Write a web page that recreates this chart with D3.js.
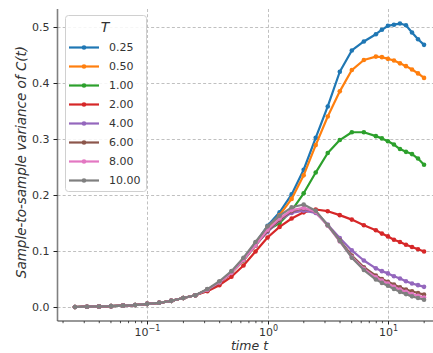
<!DOCTYPE html>
<html><head><meta charset="utf-8">
<script src="https://cdn.jsdelivr.net/npm/d3@7"></script>
<style>body{margin:0;background:#fff}svg{display:block;font-family:"DejaVu Sans",sans-serif}</style>
</head><body><svg id="c" width="433" height="353"></svg>
<script>
// log10 of time t
const logTimes = [-1.6,-1.5,-1.4,-1.3,-1.2,-1.1,-1.0,-0.9,-0.8,-0.7,-0.6,-0.5,-0.4,-0.3,-0.2,-0.1,0.0,0.1,0.2,0.3,0.4,0.5,0.6,0.7,0.8,0.9,0.95,1.0,1.05,1.1,1.15,1.2,1.25,1.3];
const temps = ["0.25","0.50","1.00","2.00","4.00","6.00","8.00","10.00"];
const colors = ["#1f77b4","#ff7f0e","#2ca02c","#d62728","#9467bd","#8c564b","#e377c2","#7f7f7f"];
const early = [0.000,0.0005,0.001,0.0015,0.0025,0.0035,0.0055,0.0075,0.011,0.016,0.021];
const v025 = early.concat([0.031,0.044,0.062,0.086,0.114,0.145,0.169,0.201,0.245,0.302,0.358,0.420,0.458,0.474,0.487,0.495,0.502,0.504,0.506,0.503,0.490,0.478,0.468]);
const v050 = early.concat([0.031,0.044,0.062,0.085,0.113,0.142,0.164,0.193,0.235,0.289,0.340,0.385,0.423,0.441,0.447,0.446,0.443,0.440,0.435,0.430,0.424,0.417,0.409]);
const v100 = early.concat([0.031,0.044,0.061,0.083,0.110,0.137,0.150,0.172,0.203,0.240,0.275,0.298,0.312,0.312,0.305,0.301,0.296,0.290,0.282,0.277,0.273,0.265,0.254]);
const v200 = early.concat([0.028,0.039,0.054,0.074,0.099,0.124,0.143,0.158,0.169,0.174,0.171,0.164,0.156,0.146,0.137,0.131,0.126,0.120,0.116,0.111,0.107,0.103,0.099]);
const v400 = early.concat([0.031,0.044,0.062,0.085,0.111,0.134,0.155,0.168,0.172,0.168,0.147,0.123,0.101,0.083,0.069,0.064,0.060,0.055,0.051,0.046,0.042,0.039,0.036]);
const v600 = early.concat([0.030,0.043,0.061,0.084,0.110,0.136,0.156,0.171,0.176,0.170,0.146,0.119,0.092,0.071,0.056,0.050,0.045,0.040,0.035,0.031,0.028,0.025,0.022]);
const v800 = early.concat([0.031,0.044,0.061,0.084,0.110,0.138,0.158,0.173,0.177,0.170,0.145,0.117,0.089,0.068,0.053,0.047,0.042,0.036,0.031,0.027,0.023,0.020,0.017]);
const v1000 = early.concat([0.032,0.046,0.064,0.088,0.116,0.144,0.163,0.178,0.183,0.172,0.146,0.118,0.088,0.066,0.049,0.043,0.038,0.032,0.027,0.023,0.019,0.016,0.013]);
const series = [v025,v050,v100,v200,v400,v600,v800,v1000];
const yTicks = [0.0,0.1,0.2,0.3,0.4,0.5];
const xTicks = [0.1,1,10];

const svg = d3.select("#c");
const L = 57.5, R = 441.5, T = 9, B = 321;
const x = d3.scaleLog().domain([Math.pow(10,-1.745),Math.pow(10,1.445)]).range([L,R]);
const y = d3.scaleLinear().domain([-0.025,0.532]).range([B,T]);

svg.append("defs").append("clipPath").attr("id","clip").append("rect").attr("x",L).attr("y",T-3).attr("width",R-L).attr("height",B-T+3);

// grid
const grid = svg.append("g").attr("stroke","#b0b0b0").attr("stroke-width",0.8).attr("stroke-dasharray","3,2.2");
yTicks.forEach(v=>grid.append("line").attr("x1",L).attr("x2",R).attr("y1",Math.round(y(v))+0.5).attr("y2",Math.round(y(v))+0.5));
xTicks.forEach(v=>grid.append("line").attr("x1",Math.round(x(v))+0.5).attr("x2",Math.round(x(v))+0.5).attr("y1",T).attr("y2",B));

// lines
const plot = svg.append("g").attr("clip-path","url(#clip)");
const line = d3.line().x((d,i)=>x(Math.pow(10,logTimes[i]))).y(d=>y(d));
series.forEach((s,k)=>{
  const g = plot.append("g");
  g.append("path").datum(s).attr("d",line).attr("fill","none").attr("stroke",colors[k]).attr("stroke-width",2.2).attr("stroke-linejoin","round");
  g.selectAll("circle").data(s).join("circle").attr("cx",(d,i)=>x(Math.pow(10,logTimes[i]))).attr("cy",d=>y(d)).attr("r",2.3).attr("fill",colors[k]);
});

// spines
svg.append("line").attr("x1",L).attr("x2",L).attr("y1",T).attr("y2",B).attr("stroke","#808080").attr("stroke-width",1.6);
svg.append("line").attr("x1",L).attr("x2",R).attr("y1",B).attr("y2",B).attr("stroke","#333").attr("stroke-width",1.2);

// y ticks
const yAxis = svg.append("g");
yTicks.forEach(v=>{
  const yy = Math.round(y(v))+0.5;
  yAxis.append("line").attr("x1",L-4).attr("x2",L).attr("y1",yy).attr("y2",yy).attr("stroke","#222").attr("stroke-width",1);
  yAxis.append("text").attr("x",L-8).attr("y",yy).attr("dy","0.36em").attr("text-anchor","end").attr("font-size",11).attr("fill","#333").text(v.toFixed(1));
});
// x ticks
const xAxis = svg.append("g");
const minor = [];
for (let e=-2;e<=1;e++) for (let m=2;m<=9;m++){ const v=m*Math.pow(10,e); if (x(v)>=L && x(v)<=R) minor.push(v); }
minor.forEach(v=>xAxis.append("line").attr("x1",x(v)).attr("x2",x(v)).attr("y1",B).attr("y2",B+2.2).attr("stroke","#222").attr("stroke-width",0.8));
const exps = ["\u22121","0","1"];
xTicks.forEach((v,i)=>{
  const xx = Math.round(x(v))+0.5;
  xAxis.append("line").attr("x1",xx).attr("x2",xx).attr("y1",B).attr("y2",B+3.5).attr("stroke","#222").attr("stroke-width",1);
  const t = xAxis.append("text").attr("x",xx).attr("y",B+14.5).attr("text-anchor","middle").attr("font-size",11).attr("fill","#333");
  t.append("tspan").text("10");
  t.append("tspan").attr("font-size",8).attr("dy",-5).text(exps[i]);
});

// axis labels
svg.append("text").attr("x",(L+R)/2).attr("y",349.8).attr("text-anchor","middle").attr("font-size",12.5).attr("font-style","italic").attr("fill","#333").text("time t");
svg.append("text").attr("transform","translate(26,"+((T+B)/2 - 3)+") rotate(-90)").attr("text-anchor","middle").attr("font-size",13.5).attr("font-style","italic").attr("fill","#333").text("Sample-to-sample variance of C(t)");

// legend
const lg = svg.append("g");
lg.append("rect").attr("x",65.5).attr("y",15.5).attr("width",81).attr("height",176).attr("rx",3).attr("fill","#fff").attr("fill-opacity",0.85).attr("stroke","#d0d0d0").attr("stroke-width",1);
lg.append("text").attr("x",105).attr("y",32).attr("text-anchor","middle").attr("font-size",14).attr("font-style","italic").attr("fill","#333").text("T");
temps.forEach((tname,k)=>{
  const yy = 47.5 + k*19;
  lg.append("line").attr("x1",69).attr("x2",99).attr("y1",yy).attr("y2",yy).attr("stroke",colors[k]).attr("stroke-width",2.2);
  lg.append("circle").attr("cx",84).attr("cy",yy).attr("r",2.3).attr("fill",colors[k]);
  lg.append("text").attr("x",109).attr("y",yy).attr("dy","0.36em").attr("font-size",11).attr("fill","#333").text(tname);
});
</script></body></html>
